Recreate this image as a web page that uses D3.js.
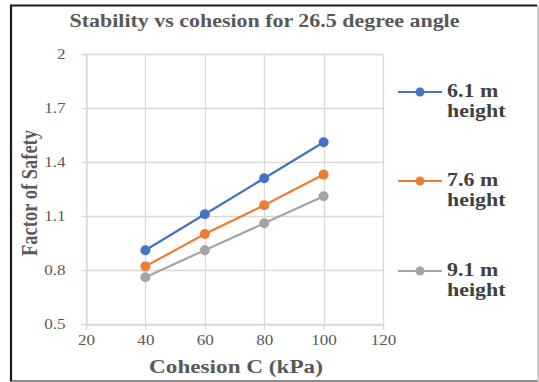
<!DOCTYPE html>
<html>
<head>
<meta charset="utf-8">
<script src="https://cdn.jsdelivr.net/npm/d3@7"></script>
<style>
  html, body { margin: 0; padding: 0; background: #fff; }
  svg { display: block; }
</style>
</head>
<body>
<svg id="chart" width="539" height="382"></svg>
<script>
// Cohesion values (kPa) and factor of safety per slope height
const cohesion = [40, 60, 80, 100];
const seriesNames = ["6.1 m height", "7.6 m height", "9.1 m height"];
const fos61 = [0.91, 1.11, 1.31, 1.51];
const fos76 = [0.82, 1.00, 1.16, 1.33];
const fos91 = [0.76, 0.91, 1.06, 1.21];
const seriesColors = ["#4472C4", "#ED7D31", "#A5A5A5"];
const xTicks = [20, 40, 60, 80, 100, 120];
const yTicks = [0.5, 0.8, 1.1, 1.4, 1.7, 2];

const series = [fos61, fos76, fos91].map((vals, i) => ({
  name: seriesNames[i],
  color: seriesColors[i],
  points: cohesion.map((c, j) => ({ x: c, y: vals[j] }))
}));

const svg = d3.select("#chart");
const W = 539, H = 382;
const SX = 1.22; // horizontal widening applied to all lettering

// Places a text element at (x, y) and widens it horizontally around its anchor
function wideText(parent, x, y, str, opts) {
  const t = parent.append("text")
    .attr("transform", `translate(${x},${y}) scale(${SX},1)`)
    .attr("text-anchor", opts.anchor || "start")
    .attr("fill", opts.fill || "#595959")
    .style("font-family", serif)
    .style("font-weight", opts.weight || "normal")
    .style("font-size", opts.size + "px")
    .text(str);
  return t;
}

// Frame around the chart
svg.append("rect").attr("x", 0).attr("y", 0).attr("width", W).attr("height", H).attr("fill", "#fff");
svg.append("line").attr("x1", 10).attr("x2", 538).attr("y1", 381).attr("y2", 381)
  .attr("stroke", "#8c8c8c").attr("stroke-width", 2);
svg.append("line").attr("x1", 538).attr("x2", 538).attr("y1", 5).attr("y2", 382)
  .attr("stroke", "#bfbfbf").attr("stroke-width", 1.5);
svg.append("line").attr("x1", 10).attr("x2", 537).attr("y1", 5.5).attr("y2", 5.5)
  .attr("stroke", "#1a1a1a").attr("stroke-width", 2);
svg.append("line").attr("x1", 11).attr("x2", 11).attr("y1", 5).attr("y2", 381)
  .attr("stroke", "#1a1a1a").attr("stroke-width", 2.2);

const plot = { left: 86, right: 383, top: 54, bottom: 324 };

const x = d3.scaleLinear().domain([20, 120]).range([plot.left, plot.right]);
const y = d3.scaleLinear().domain([0.5, 2]).range([plot.bottom, plot.top]);

const serif = "'Liberation Serif', 'Times New Roman', serif";
const textGray = "#595959";
const gridColor = "#d9d9d9";

// Gridlines
const g = svg.append("g");
g.selectAll(".hgrid").data(yTicks).join("line")
  .attr("x1", plot.left).attr("x2", plot.right)
  .attr("y1", d => Math.round(y(d)) + 0.5).attr("y2", d => Math.round(y(d)) + 0.5)
  .attr("stroke", gridColor).attr("stroke-width", 1.3);
g.selectAll(".vgrid").data(xTicks).join("line")
  .attr("x1", d => Math.round(x(d)) + 0.5).attr("x2", d => Math.round(x(d)) + 0.5)
  .attr("y1", plot.top).attr("y2", plot.bottom)
  .attr("stroke", gridColor).attr("stroke-width", 1.3);

// Axes
const xAxis = svg.append("g")
  .attr("transform", `translate(0,${Math.round(y(0.5)) + 0.5})`)
  .call(d3.axisBottom(x).tickValues(xTicks).tickSize(5).tickPadding(6).tickFormat(d3.format("d")));
const yAxis = svg.append("g")
  .attr("transform", `translate(${Math.round(x(20)) + 0.5},0)`)
  .call(d3.axisLeft(y).tickValues(yTicks).tickSize(5).tickPadding(16).tickFormat(d => d === 2 ? "2" : d3.format(".1f")(d)));

[xAxis, yAxis].forEach(a => {
  a.select(".domain").attr("stroke", gridColor).attr("stroke-width", 1.3);
  a.selectAll(".tick line").attr("stroke", gridColor).attr("stroke-width", 1.3);
  a.selectAll(".tick text")
    .attr("fill", textGray)
    .style("font-family", serif)
    .style("font-size", "14px");
});
// Widen tick labels around their anchor points
xAxis.selectAll(".tick text").attr("transform", `scale(${SX},1)`);
yAxis.selectAll(".tick text").each(function () {
  const x0 = +d3.select(this).attr("x");
  d3.select(this).attr("transform", `translate(${x0},0) scale(${SX},1) translate(${-x0},0)`);
});

// Series lines and markers
const line = d3.line().x(d => x(d.x)).y(d => y(d.y));
series.forEach(s => {
  svg.append("path").datum(s.points)
    .attr("d", line).attr("fill", "none")
    .attr("stroke", s.color).attr("stroke-width", 2.2);
  svg.selectAll(null).data(s.points).join("circle")
    .attr("cx", d => x(d.x)).attr("cy", d => y(d.y)).attr("r", 5)
    .attr("fill", s.color);
});

// Title
wideText(svg, 264.5, 26.5, "Stability vs cohesion for 26.5 degree angle",
  { anchor: "middle", weight: "bold", size: 18 });

// Axis titles
wideText(svg, 236, 373, "Cohesion C (kPa)", { anchor: "middle", weight: "bold", size: 19 });
svg.append("text")
  .attr("transform", "translate(37,193) scale(1.22,1) rotate(-90)")
  .attr("text-anchor", "middle")
  .attr("fill", textGray)
  .style("font-family", serif).style("font-weight", "bold").style("font-size", "18.5px")
  .text("Factor of Safety");

// Legend
const legendY = [92, 181, 271];
series.forEach((s, i) => {
  const lg = svg.append("g").attr("transform", `translate(0,${legendY[i]})`);
  lg.append("line").attr("x1", 398).attr("x2", 442).attr("y1", 0).attr("y2", 0)
    .attr("stroke", s.color).attr("stroke-width", 2.2);
  lg.append("circle").attr("cx", 420).attr("cy", 0).attr("r", 4.5).attr("fill", s.color);
  const parts = s.name.split(" ");
  wideText(lg, 447, 4.5, parts[0] + " " + parts[1], { weight: "bold", size: 18, fill: "#404040" });
  wideText(lg, 447, 25, parts[2], { weight: "bold", size: 18, fill: "#404040" });
});
</script>
</body>
</html>
